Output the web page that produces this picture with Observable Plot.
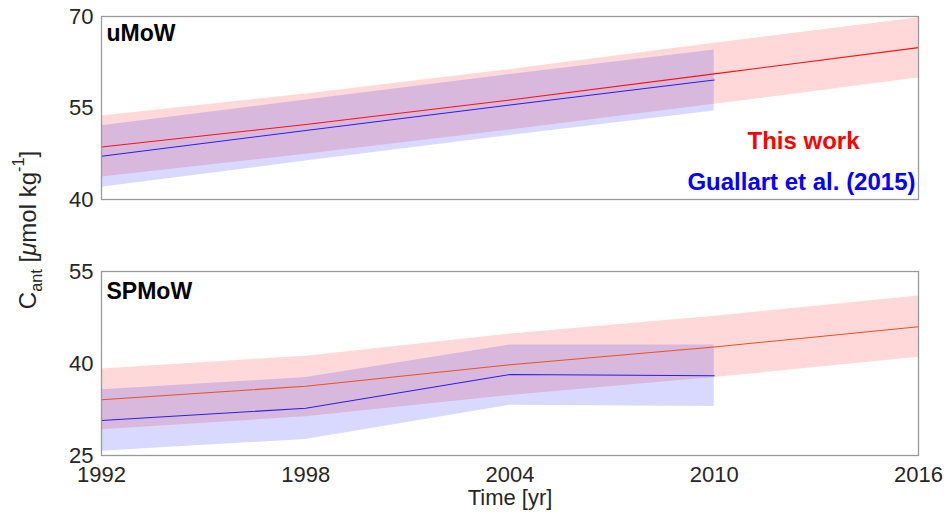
<!DOCTYPE html>
<html>
<head>
<meta charset="utf-8">
<script src="https://cdn.jsdelivr.net/npm/d3@7"></script>
<script src="https://cdn.jsdelivr.net/npm/@observablehq/plot@0.6"></script>
<style>
  html, body { margin: 0; padding: 0; background: #fff; }
  #wrap { position: relative; width: 948px; height: 515px; font-family: "Liberation Sans", Arial, sans-serif; }
  #top, #bot { position: absolute; left: 0; }
  #top { top: 0; }
  #bot { top: 240px; }
  #ylab { position: absolute; left: 28px; top: 230px; transform: translate(-50%, -50%) rotate(-90deg);
          white-space: nowrap; font-size: 24px; color: #262626; }
  #ylab sub, #ylab sup { font-size: 0.68em; line-height: 0; }
  #ylab sub { vertical-align: -0.35em; }
  #ylab sup { vertical-align: 0.75em; }
</style>
</head>
<body>
<div id="wrap">
  <div id="top"></div>
  <div id="bot"></div>
  <div id="ylab">C<sub>ant</sub> [<i>μ</i>mol kg<sup>-1</sup>]</div>
</div>
<script>
// Years
const years = [1992, 1998, 2004, 2010, 2016];
const yearsG = [1992, 1998, 2004, 2010];
const xTicks = [1992, 1998, 2004, 2010, 2016];

// uMoW (top panel)
const uRed   = [48.6, 52.3, 56.3, 60.6, 64.9];
const uRedLo = [43.7, 47.4, 51.4, 55.6, 59.9];
const uRedHi = [53.7, 57.3, 61.3, 65.6, 69.8];
const uBlue   = [47.1, 51.3, 55.5, 59.6];
const uBlueLo = [42.0, 46.3, 50.5, 54.5];
const uBlueHi = [52.1, 56.3, 60.5, 64.5];
const uTicks = [40, 55, 70];

// SPMoW (bottom panel)
const sRed   = [34.1, 36.3, 39.8, 42.7, 46.0];
const sRedLo = [29.2, 31.3, 34.8, 37.7, 41.0];
const sRedHi = [39.1, 41.2, 44.8, 47.7, 51.0];
const sBlue   = [30.7, 32.7, 38.2, 38.0];
const sBlueLo = [25.7, 27.6, 33.2, 33.0];
const sBlueHi = [35.7, 37.7, 43.0, 43.0];
const sTicks = [25, 40, 55];

const labels = {top: "uMoW", bottom: "SPMoW", red: "This work", blue: "Guallart et al. (2015)"};

const rows = (xs, v, lo, hi) => xs.map((x, i) => ({x, v: v[i], lo: lo[i], hi: hi[i]}));
const FONT = "Liberation Sans, Arial, sans-serif";
const TXT = "#262626";

function panel({red, blue, yDomain, yTicks, label, labelDy, bottom, redLine, height, mt, mb, legend}) {
  const marks = [
    Plot.areaY(red, {x: "x", y1: "lo", y2: "hi", fill: "#ff0000", fillOpacity: 0.15}),
    Plot.areaY(blue, {x: "x", y1: "lo", y2: "hi", fill: "#0000ff", fillOpacity: 0.15}),
    Plot.line(red, {x: "x", y: "v", stroke: redLine, strokeWidth: 1.1}),
    Plot.line(blue, {x: "x", y: "v", stroke: "#2a1fe6", strokeWidth: 1.1}),
    Plot.frame({stroke: "#9a9a9a", strokeWidth: 1.3}),
    Plot.axisY(yTicks, {tickSize: 0, tickPadding: 8, fontSize: 22, fill: TXT}),
    Plot.text([label], {frameAnchor: "top-left", textAnchor: "start", lineAnchor: "middle",
      dx: 5, dy: labelDy, fontSize: 23, fontWeight: "bold", fill: "#000"})
  ];
  if (bottom) {
    marks.push(Plot.axisX(xTicks, {tickSize: 0, tickPadding: 11, fontSize: 22, fill: TXT, tickFormat: d3.format("d"), label: null}));
    marks.push(Plot.text(["Time [yr]"], {frameAnchor: "bottom", lineAnchor: "middle", dy: 42, fontSize: 22, fill: TXT}));
  } else {
    marks.push(Plot.axisX({ticks: [], label: null, tickSize: 0}));
  }
  if (legend) {
    marks.push(Plot.text([labels.red], {frameAnchor: "bottom-right", textAnchor: "middle", lineAnchor: "middle",
      dx: -115, dy: -58, fontSize: 24, fontWeight: "bold", fill: "#ff0000"}));
    marks.push(Plot.text([labels.blue], {frameAnchor: "bottom-right", textAnchor: "end", lineAnchor: "middle",
      dx: -3, dy: -17, fontSize: 24, fontWeight: "bold", fill: "#0000ff"}));
  }
  return Plot.plot({
    width: 948, height, marginLeft: 101, marginRight: 30, marginTop: mt, marginBottom: mb,
    style: {fontFamily: FONT, background: "transparent", overflow: "visible"},
    x: {domain: [1992, 2016]},
    y: {domain: yDomain},
    marks
  });
}

document.getElementById("top").append(panel({
  red: rows(years, uRed, uRedLo, uRedHi), blue: rows(yearsG, uBlue, uBlueLo, uBlueHi),
  yDomain: [40, 70], yTicks: uTicks, label: labels.top, labelDy: 17, bottom: false,
  redLine: "#ff1010", height: 240, mt: 16, mb: 41, legend: true
}));
document.getElementById("bot").append(panel({
  red: rows(years, sRed, sRedLo, sRedHi), blue: rows(yearsG, sBlue, sBlueLo, sBlueHi),
  yDomain: [25, 55], yTicks: sTicks, label: labels.bottom, labelDy: 20, bottom: true,
  redLine: "#e8521f", height: 275, mt: 31, mb: 60, legend: false
}));
</script>
</body>
</html>
